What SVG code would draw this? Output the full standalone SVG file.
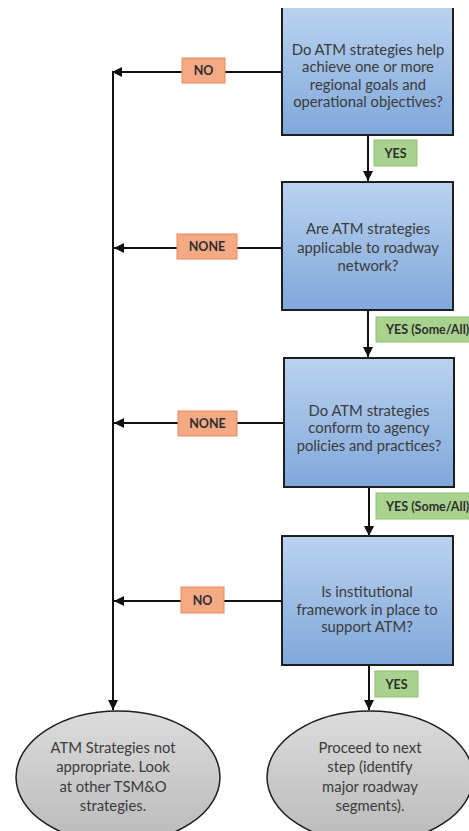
<svg xmlns="http://www.w3.org/2000/svg" width="469" height="831" viewBox="0 0 469 831">
  <defs>
    <linearGradient id="boxFill" x1="0" y1="0" x2="0" y2="1">
      <stop offset="0" stop-color="#bad2ef"/>
      <stop offset="1" stop-color="#80a8db"/>
    </linearGradient>
    <linearGradient id="endFill" x1="0" y1="0" x2="0" y2="1">
      <stop offset="0" stop-color="#dcdcdc"/>
      <stop offset="1" stop-color="#bababa"/>
    </linearGradient>
    <marker id="arrow" viewBox="0 0 10 10" refX="10" refY="5" markerWidth="5" markerHeight="5" orient="auto" markerUnits="strokeWidth">
      <path d="M0,0 L10,5 L0,10 Z" fill="#111"/>
    </marker>
  </defs>
  <style>
    .box { fill: url(#boxFill); stroke: #1e1e1e; stroke-width: 2; }
    .end { fill: url(#endFill); stroke: #1e1e1e; stroke-width: 1.5; }
    .q { font-family: Lato, "Liberation Sans", sans-serif; font-size: 14.8px; fill: #3b3b3b; text-anchor: middle; }
    .no { fill: #f5a985; stroke: #e8895c; stroke-width: 1; }
    .yes { fill: #a9d28f; stroke: #8cc070; stroke-width: 1; }
    .lbl { font-family: Lato, "Liberation Sans", sans-serif; font-size: 12.5px; font-weight: bold; fill: #2e2e2e; text-anchor: middle; }
    .lbls { font-family: Lato, "Liberation Sans", sans-serif; font-size: 12.5px; font-weight: bold; fill: #2e2e2e; }
    .wire { fill: none; stroke: #111; stroke-width: 2; }
  </style>

  <!-- connectors and their branch labels -->
  <g id="connectors">
    <path class="wire" d="M368,135 V181" marker-end="url(#arrow)"/>
    <path class="wire" d="M368,310 V357" marker-end="url(#arrow)"/>
    <path class="wire" d="M369,487 V536" marker-end="url(#arrow)"/>
    <path class="wire" d="M369,665 V710" marker-end="url(#arrow)"/>
    <path class="wire" d="M282,72 H112" marker-end="url(#arrow)"/>
    <path class="wire" d="M282,248 H114" marker-end="url(#arrow)"/>
    <path class="wire" d="M284,423 H114" marker-end="url(#arrow)"/>
    <path class="wire" d="M282,601 H114" marker-end="url(#arrow)"/>
    <path class="wire" d="M113,72 V710" marker-end="url(#arrow)"/>

    <rect class="no" x="182" y="58" width="43" height="25"/>
    <text class="lbl" x="203.5" y="75">NO</text>
    <rect class="yes" x="374" y="140" width="43" height="26"/>
    <text class="lbl" x="395.5" y="157.5">YES</text>

    <rect class="no" x="177" y="234" width="60" height="25"/>
    <text class="lbl" x="207" y="251">NONE</text>
    <rect class="yes" x="376" y="317" width="100" height="25"/>
    <text class="lbls" x="386" y="334">YES (Some/All)</text>

    <rect class="no" x="178" y="411" width="59" height="25"/>
    <text class="lbl" x="207.5" y="428">NONE</text>
    <rect class="yes" x="376" y="493" width="100" height="26"/>
    <text class="lbls" x="386" y="510.5">YES (Some/All)</text>

    <rect class="no" x="181" y="587" width="43" height="26"/>
    <text class="lbl" x="202.5" y="604.5">NO</text>
    <rect class="yes" x="375" y="671" width="43" height="26"/>
    <text class="lbl" x="396.5" y="688.5">YES</text>
  </g>

  <!-- decision 1: top edge runs off the page -->
  <g id="q-goals">
    <rect x="282" y="8" width="171" height="127" fill="url(#boxFill)"/>
    <path d="M282,8 V135 H453 V8" fill="none" stroke="#1e1e1e" stroke-width="2"/>
    <text class="q" x="368" y="54.5">Do ATM strategies help</text>
    <text class="q" x="368" y="72">achieve one or more</text>
    <text class="q" x="368" y="89.5">regional goals and</text>
    <text class="q" x="368" y="107">operational objectives?</text>
  </g>

  <g id="q-network">
    <rect class="box" x="282" y="182" width="171" height="128"/>
    <text class="q" x="368" y="234">Are ATM strategies</text>
    <text class="q" x="368" y="252.5">applicable to roadway</text>
    <text class="q" x="368" y="271">network?</text>
  </g>

  <g id="q-policies">
    <rect class="box" x="284" y="358" width="170" height="129"/>
    <text class="q" x="369" y="415.5">Do ATM strategies</text>
    <text class="q" x="369" y="433">conform to agency</text>
    <text class="q" x="369" y="450.5">policies and practices?</text>
  </g>

  <g id="q-framework">
    <rect class="box" x="282" y="536" width="171" height="129"/>
    <text class="q" x="367" y="596.5">Is institutional</text>
    <text class="q" x="367" y="614.5">framework in place to</text>
    <text class="q" x="367" y="632">support ATM?</text>
  </g>

  <g id="end-reject">
    <ellipse class="end" cx="118" cy="777" rx="102" ry="66"/>
    <text class="q" x="113" y="753">ATM Strategies not</text>
    <text class="q" x="113" y="772">appropriate. Look</text>
    <text class="q" x="113" y="792">at other TSM&amp;O</text>
    <text class="q" x="113" y="811">strategies.</text>
  </g>

  <g id="end-proceed">
    <ellipse class="end" cx="370" cy="777" rx="103" ry="66"/>
    <text class="q" x="370" y="753">Proceed to next</text>
    <text class="q" x="370" y="772">step (identify</text>
    <text class="q" x="370" y="792">major roadway</text>
    <text class="q" x="370" y="811">segments).</text>
  </g>
</svg>
